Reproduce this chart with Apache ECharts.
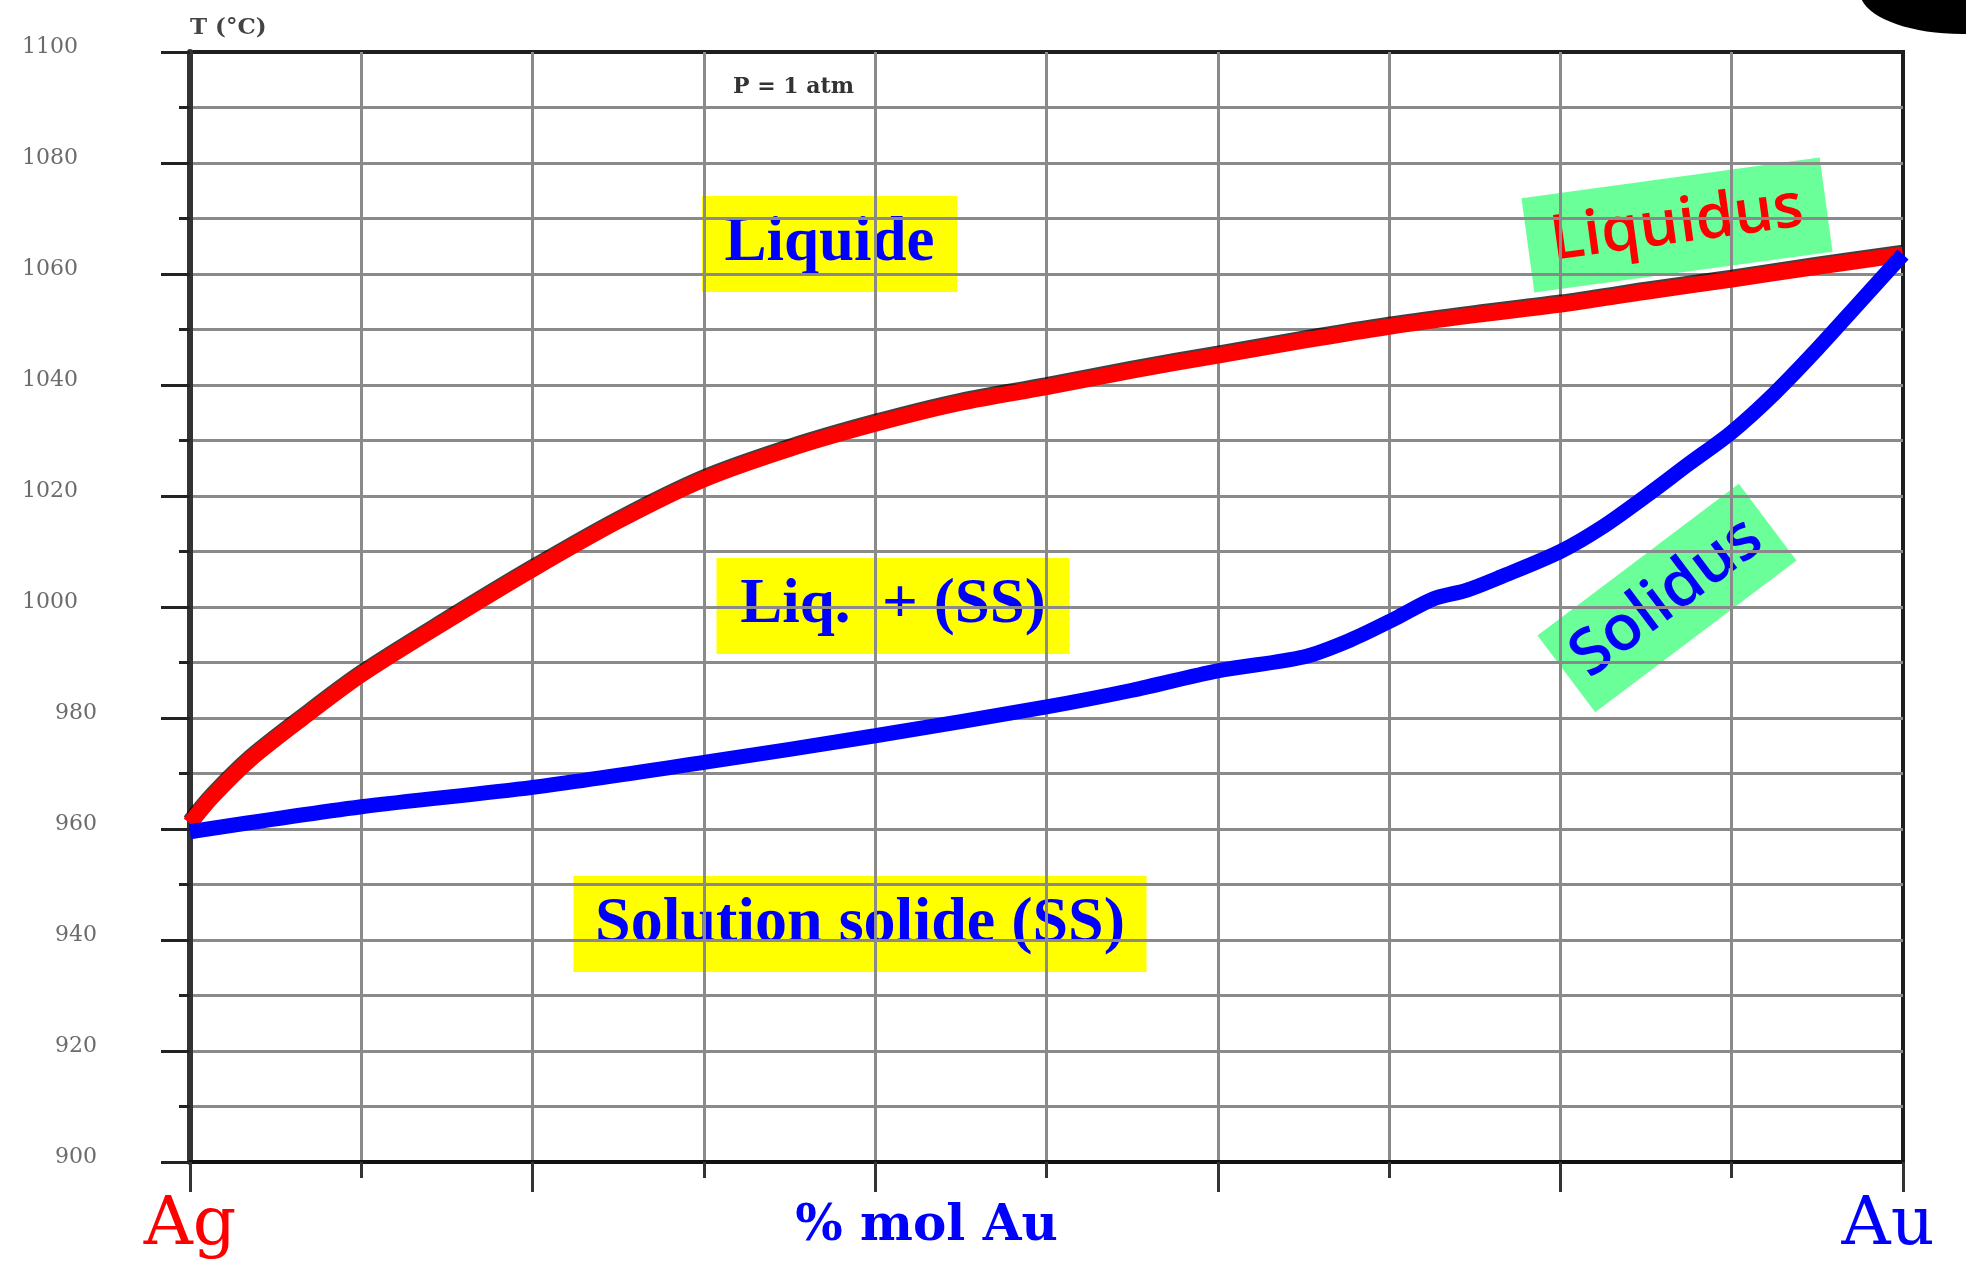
<!DOCTYPE html>
<html><head><meta charset="utf-8">
<script src="https://cdn.jsdelivr.net/npm/echarts@6/dist/echarts.min.js"></script>
<style>html,body{margin:0;padding:0;background:#fff}#c{width:1966px;height:1269px}</style>
</head><body><div id="c"></div>
<script>
// ---- data ----
const liquidusX = [0, 1.3, 3.5, 6.5, 10, 15, 20, 25, 30, 35, 40, 45, 50, 55, 60, 65, 70, 75, 80, 85, 90, 95, 100];
const liquidusT = [961, 965.8, 972.5, 979.8, 987.8, 997.5, 1006.8, 1015.5, 1023, 1028.5, 1033, 1036.8, 1039.6, 1042.6, 1045.3, 1048, 1050.5, 1052.6, 1054.5, 1056.8, 1059, 1061.3, 1063.5];
const solidusX = [0, 10, 20, 30, 40, 50, 55, 60, 65, 67.7, 70.4, 72.6, 74.5, 76.5, 80, 82.5, 85, 87.5, 90, 92.5, 95, 97.5, 100];
const solidusT = [959.5, 964, 967.5, 972, 976.8, 982, 985, 988.5, 991, 994, 998, 1001.5, 1003, 1005.4, 1010, 1014.5, 1020, 1025.8, 1031.5, 1038.5, 1046.5, 1055, 1063.5];
const yMin = 900, yMax = 1100, yStep = 20;
const xMin = 0, xMax = 100, xStep = 20;
const xEndLabels = ['Ag', 'Au'];
const xName = '% mol Au';
const yName = 'T (°C)';
const pressureText = 'P = 1 atm';
const regionLabels = ['Liquide', 'Liq.  + (SS)', 'Solution solide (SS)'];
const curveLabels = ['Liquidus', 'Solidus'];

const zip = (xs, ys) => xs.map((x, i) => [x, ys[i]]);

function labelBox(text, cx, cy, w, h, rot, bg, color, font) {
  return {
    type: 'group', x: cx, y: cy, rotation: rot, z: 100,
    children: [
      { type: 'rect', shape: { x: -w / 2, y: -h / 2, width: w, height: h }, style: { fill: bg } },
      { type: 'text', x: 0, y: 0, style: { text: text, fill: color, font: font, align: 'center', verticalAlign: 'middle', textAlign: 'center', textVerticalAlign: 'middle' } }
    ]
  };
}

const gridLine = { color: '#8a8a8a', width: 3 };
const chart = echarts.init(document.getElementById('c'));
chart.setOption({
  animation: false,
  backgroundColor: '#fff',
  grid: { left: 190, right: 63, top: 52, bottom: 107, show: true, borderColor: '#1e1e1e', borderWidth: 4, outerBoundsMode: 'none' },
  xAxis: {
    type: 'value', min: xMin, max: xMax, interval: xStep,
    name: xName, nameLocation: 'middle', nameGap: 40, nameMoveOverlap: false,
    nameTextStyle: { color: '#0000ff', fontFamily: 'DejaVu Serif', fontWeight: 'bold', fontSize: 50, lineHeight: 50, padding: [0, 240, 0, 0] },
    axisLine: { show: true, lineStyle: { color: '#111', width: 4 } },
    axisTick: { show: true, length: 30, lineStyle: { color: '#333', width: 3 } },
    minorTick: { show: true, splitNumber: 2, length: 16, lineStyle: { color: '#333', width: 3 } },
    splitLine: { show: true, showMaxLine: false, showMinLine: false, lineStyle: gridLine },
    minorSplitLine: { show: true, lineStyle: gridLine },
    axisLabel: {
      show: true, margin: 30, showMinLabel: true, showMaxLabel: true,
      formatter: v => v === xMin ? '{ag|' + xEndLabels[0] + '}' : (v === xMax ? '{au|' + xEndLabels[1] + '}' : ''),
      rich: {
        ag: { color: '#ff0000', fontFamily: 'DejaVu Serif', fontSize: 68, lineHeight: 68 },
        au: { color: '#0000ff', fontFamily: 'DejaVu Serif', fontSize: 68, lineHeight: 68, padding: [0, 30, 0, 0] }
      }
    }
  },
  yAxis: {
    type: 'value', min: yMin, max: yMax, interval: yStep,
    name: yName, nameLocation: 'end', nameGap: 24,
    nameTextStyle: { color: '#444', fontFamily: 'DejaVu Serif', fontWeight: 'bold', fontSize: 23, align: 'left', verticalAlign: 'middle' },
    axisLine: { show: true, lineStyle: { color: '#333', width: 6 } },
    axisTick: { show: true, length: 29, lineStyle: { color: '#222', width: 3 } },
    minorTick: { show: true, splitNumber: 2, length: 11, lineStyle: { color: '#222', width: 3 } },
    splitLine: { show: true, showMaxLine: false, showMinLine: false, lineStyle: gridLine },
    minorSplitLine: { show: true, lineStyle: gridLine },
    axisLabel: {
      show: true, margin: 93, showMinLabel: true, showMaxLabel: true,
      formatter: v => v >= 1000 ? '{a|' + v + '}' : '{b|' + v + '}',
      rich: {
        a: { color: '#6b6b6b', fontFamily: 'DejaVu Serif', fontSize: 22, padding: [0, 19, 10, 0] },
        b: { color: '#6b6b6b', fontFamily: 'DejaVu Serif', fontSize: 22, padding: [0, 0, 10, 0] }
      }
    }
  },
  series: [
    { name: curveLabels[0], type: 'line', data: zip(liquidusX, liquidusT), showSymbol: false, symbol: 'none',
      smooth: 0.3, lineStyle: { color: '#ff0000', width: 16, shadowColor: 'rgba(0,0,0,0.75)', shadowOffsetY: -2, shadowBlur: 0 }, z: 3 },
    { name: curveLabels[1], type: 'line', data: zip(solidusX, solidusT), showSymbol: false, symbol: 'none',
      smooth: 0.3, lineStyle: { color: '#0000ff', width: 15 }, z: 4 }
  ],
  graphic: [
    { type: 'ellipse', shape: { cx: 1962, cy: -8, rx: 102, ry: 42 }, style: { fill: '#000' }, z: 100 },
    { type: 'text', x: 733, y: 87, z: 100, style: { text: pressureText, fill: '#333', font: 'bold 22px "DejaVu Serif"', align: 'left', verticalAlign: 'middle', textAlign: 'left', textVerticalAlign: 'middle' } },
    labelBox(regionLabels[0], 829.5, 244, 255, 96, 0, '#ffff00', '#0000ff', 'bold 63px "Liberation Serif"'),
    labelBox(regionLabels[1], 893, 606, 353, 96, 0, '#ffff00', '#0000ff', 'bold 63px "Liberation Serif"'),
    labelBox(regionLabels[2], 860, 924, 573, 96, 0, '#ffff00', '#0000ff', 'bold 64px "Liberation Serif"'),
    labelBox(curveLabels[0], 1677, 225, 301, 95, 7.8 * Math.PI / 180, '#6bff99', '#ff0000', '600 62px "Open Sans"'),
    labelBox(curveLabels[1], 1667, 598, 252, 96, 37 * Math.PI / 180, '#6bff99', '#0000ff', '600 64px "Open Sans"')
  ]
});
</script>
</body></html>
